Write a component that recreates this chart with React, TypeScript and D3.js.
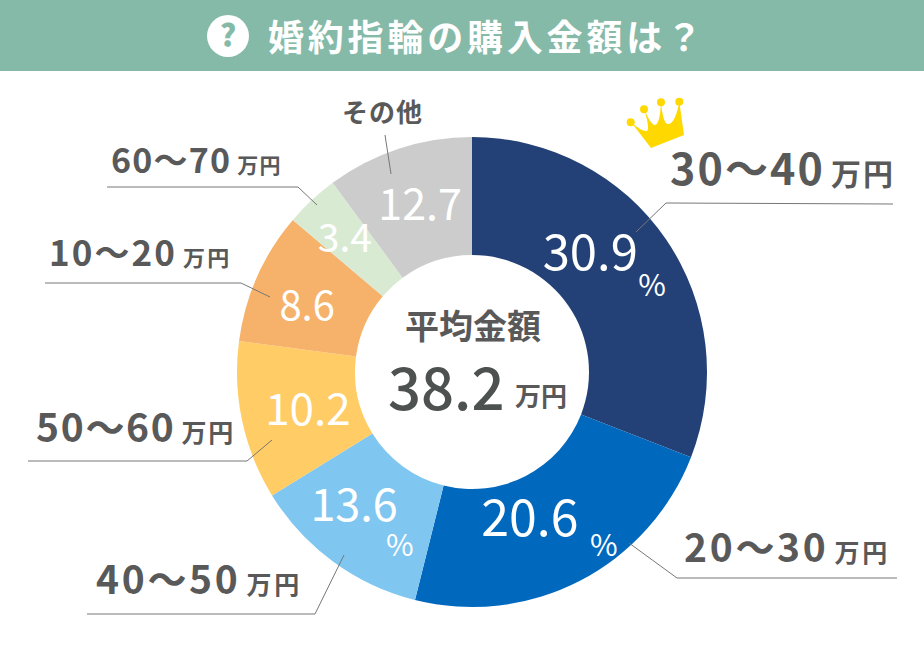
import React from "react";
import * as d3 from "d3";

const categories = ["30～40", "20～30", "40～50", "50～60", "10～20", "60～70", "その他"];
// printed percentages
const shares = [30.9, 20.6, 13.6, 10.2, 8.6, 3.4, 12.7];
// the slices in the picture are not cut to the printed numbers, so the sweep is read off separately
const sweeps = [30.9, 23, 12.3, 10.9, 9.1, 3.7, 10.1];
const sliceColors = ["#234176", "#0068bd", "#7fc6f0", "#ffcc66", "#f6b26b", "#d9ead3", "#cccccc"];
const averageValue = "38.2";
const unit = "万円";
const titleText = "婚約指輪の購入金額は？";

const width = 924;
const height = 668;
const cx = 472;
const cy = 372;
const outerR = 235;
const innerR = 117;
const font = "'Noto Sans CJK JP', 'Noto Sans', sans-serif";
const textColor = "#595959";

// nudges from the arc centroid for the white numbers
const valueNudge = [
  { dx: -27, dy: -20, size: 49 },
  { dx: -23, dy: -10, size: 50 },
  { dx: -14, dy: -9, size: 45 },
  { dx: 8, dy: 0, size: 44 },
  { dx: -4, dy: 5, size: 40 },
  { dx: -7, dy: -5, size: 39 },
  { dx: 3, dy: 0, size: 43 },
];

// category labels and their leader lines
const labelLayout = [
  { x: 670, y: 185, size: 43, spacing: 2.1, unitSize: 30, leader: "M636,232L666,203L893,204" },
  { x: 684, y: 562, size: 39, spacing: 2.7, unitSize: 25, leader: "M629,543L677,578L897,578" },
  { x: 96, y: 594, size: 39, spacing: 2.7, unitSize: 25, leader: "M344,555L315,614L87,614" },
  { x: 36, y: 442, size: 39, spacing: 1.7, unitSize: 25, leader: "M272,440L247,461L28,461" },
  { x: 49, y: 266, size: 35, spacing: 2.1, unitSize: 22, leader: "M270,297L241,283L45,283" },
  { x: 111, y: 173, size: 34, spacing: 1.2, unitSize: 21, leader: "M317,205L298,187L107,187" },
  { x: 342, y: 122, size: 26, spacing: 1, unitSize: 0, leader: "M385,135L391,174" },
];

// % signs, offset from the number they belong to
const percentMarks = [
  { index: 0, dx: 48, dy: 33, size: 30 },
  { index: 1, dx: 60, dy: 27, size: 30 },
  { index: 2, dx: 32, dy: 40, size: 30 },
];

export default function App() {
  const pie = d3.pie<number>().sort(null).value((d) => d);
  const arc = d3.arc<d3.PieArcDatum<number>>().innerRadius(innerR).outerRadius(outerR);
  const slices = pie(sweeps);

  return (
    <svg
      width={width}
      height={height}
      style={{ position: "absolute", left: 0, top: 0, fontFamily: font }}
    >
      <rect width={width} height={height} fill="#fff" />
      <rect width={width} height={71} fill="#86baa8" />
      <circle cx={228} cy={36} r={21} fill="#fff" />
      <text x={228} y={47} textAnchor="middle" fontSize={31} fontWeight={900} fill="#86baa8">
        ?
      </text>
      <text x={268} y={51} fontSize={36} fontWeight={700} letterSpacing={3.8} fill="#fff">
        {titleText}
      </text>

      <g transform={`translate(${cx},${cy})`}>
        {slices.map((s, i) => (
          <path key={categories[i]} d={arc(s) ?? ""} fill={sliceColors[i]} />
        ))}
      </g>

      {labelLayout.map((l, i) => (
        <path key={i} d={l.leader} fill="none" stroke="#777" strokeWidth={1} />
      ))}

      {slices.map((s, i) => {
        const [x, y] = arc.centroid(s);
        const n = valueNudge[i];
        return (
          <text
            key={i}
            x={cx + x + n.dx}
            y={cy + y + n.dy}
            dy="0.36em"
            textAnchor="middle"
            fontSize={n.size}
            fill="#fff"
          >
            {shares[i].toFixed(1)}
          </text>
        );
      })}

      {percentMarks.map((p) => {
        const [x, y] = arc.centroid(slices[p.index]);
        const n = valueNudge[p.index];
        return (
          <text
            key={p.index}
            x={cx + x + n.dx + p.dx}
            y={cy + y + n.dy + p.dy}
            dy="0.36em"
            fontSize={p.size}
            fill="#fff"
          >
            %
          </text>
        );
      })}

      {labelLayout.map((l, i) => (
        <text
          key={categories[i]}
          x={l.x}
          y={l.y}
          fontSize={l.size}
          fontWeight={700}
          letterSpacing={l.spacing}
          fill={textColor}
        >
          {categories[i]}
          {l.unitSize > 0 && (
            <tspan fontSize={l.unitSize} dx={6}>
              {unit}
            </tspan>
          )}
        </text>
      ))}

      <text x={473} y={339} textAnchor="middle" fontSize={34} fontWeight={700} fill={textColor}>
        平均金額
      </text>
      <text x={388} y={410} fontSize={58} fontWeight={500} fill="#4d5150">
        {averageValue}
      </text>
      <text x={515} y={406} fontSize={26} fontWeight={700} fill={textColor}>
        {unit}
      </text>

      <g fill="#ffd800">
        <path d="M651,148L684,135L679.3,102Q675,124 668,124Q663,124 661,102Q660,124 655,125Q651,125 644,109Q650,128 647,131Q642,132 631,122Z" />
        <circle cx={630.7} cy={122.3} r={4} />
        <circle cx={644} cy={109.3} r={4} />
        <circle cx={661} cy={102.3} r={4} />
        <circle cx={679.3} cy={101.7} r={4} />
      </g>
    </svg>
  );
}
